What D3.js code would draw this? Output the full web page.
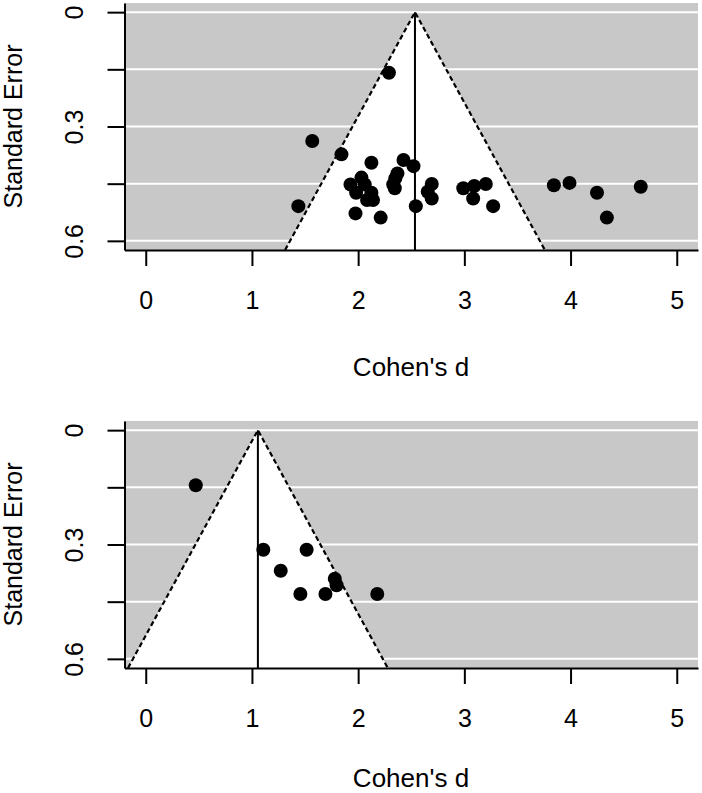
<!DOCTYPE html>
<html>
<head>
<meta charset="utf-8">
<script src="https://cdn.jsdelivr.net/npm/d3@7"></script>
<style>
  body { margin: 0; background: #fff; }
  svg { display: block; font-family: "Liberation Sans", Arial, Helvetica, sans-serif; }
</style>
</head>
<body>
<svg></svg>
<script>
// values
let topD = [1.568, 1.843, 2.125, 2.427, 2.521, 2.37, 2.35, 2.33, 2.345, 2.031,
  1.928, 2.062, 1.981, 2.125, 2.084, 2.14, 1.975, 2.212, 2.543, 2.693,
  2.655, 2.693, 2.99, 3.093, 3.202, 3.083, 3.271, 1.437, 2.29, 3.843,
  3.99, 4.249, 4.661, 4.342];
let topSE = [0.338, 0.373, 0.395, 0.388, 0.404, 0.423, 0.436, 0.452, 0.462, 0.434,
  0.452, 0.452, 0.474, 0.474, 0.493, 0.493, 0.528, 0.539, 0.509, 0.451,
  0.471, 0.489, 0.462, 0.456, 0.451, 0.489, 0.509, 0.509, 0.159, 0.454,
  0.448, 0.474, 0.458, 0.539];
let topMean = 2.535;

let bottomD = [0.471, 1.107, 1.515, 1.271, 1.78, 1.797, 1.456, 1.692, 2.18];
let bottomSE = [0.1445, 0.3136, 0.3136, 0.3687, 0.39, 0.407, 0.43, 0.43, 0.43];
let bottomMean = 1.056;

let xTicks = [0, 1, 2, 3, 4, 5];
let yTicks = [0, 0.15, 0.3, 0.45, 0.6];
let yTickLabels = ["0", "", "0.3", "", "0.6"];
let xTitle = "Cohen's d";
let yTitle = "Standard Error";

let width = 702;
let height = 793;
let left = 124.5;
let right = 698;
let panelHeight = 247;

let svg = d3.select("svg").attr("width", width).attr("height", height);

let drawPanel = (ds, ses, mean, top, titleGap, id) => {
  let xScale = d3.scaleLinear().domain([-0.2, 5.2]).range([left, right]);
  let yScale = d3.scaleLinear().domain([-0.024, 0.624]).range([top, top + panelHeight]);
  let seMax = yScale.domain()[1];

  let g = svg.append("g").attr("id", id);

  g.append("clipPath")
    .attr("id", id + "-clip")
    .append("rect")
    .attr("x", left)
    .attr("y", top)
    .attr("width", right - left)
    .attr("height", panelHeight);

  let plot = g.append("g").attr("clip-path", "url(#" + id + "-clip)");

  plot.append("rect")
    .attr("x", left)
    .attr("y", top)
    .attr("width", right - left)
    .attr("height", panelHeight)
    .attr("fill", "#c8c8c8");

  plot.selectAll("line.grid")
    .data(yTicks)
    .enter()
    .append("line")
    .attr("class", "grid")
    .attr("x1", left)
    .attr("x2", right)
    .attr("y1", (v) => yScale(v))
    .attr("y2", (v) => yScale(v))
    .attr("stroke", "#fff")
    .attr("stroke-width", 2);

  let funnel = [
    [mean - 1.96 * seMax, seMax],
    [mean, 0],
    [mean + 1.96 * seMax, seMax],
  ];
  let line = d3.line().x((p) => xScale(p[0])).y((p) => yScale(p[1]));

  plot.append("path")
    .attr("d", line(funnel) + "Z")
    .attr("fill", "#fff");

  plot.append("path")
    .attr("d", line(funnel))
    .attr("fill", "none")
    .attr("stroke", "#000")
    .attr("stroke-width", 2.2)
    .attr("stroke-dasharray", "5,3");

  plot.append("line")
    .attr("x1", xScale(mean))
    .attr("x2", xScale(mean))
    .attr("y1", yScale(0))
    .attr("y2", yScale(seMax))
    .attr("stroke", "#000")
    .attr("stroke-width", 2);

  plot.selectAll("circle")
    .data(ds)
    .enter()
    .append("circle")
    .attr("cx", (d) => xScale(d))
    .attr("cy", (d, i) => yScale(ses[i]))
    .attr("r", 7)
    .attr("fill", "#000");

  let xAxis = d3.axisBottom(xScale).tickValues(xTicks).tickSize(16).tickSizeOuter(0)
    .tickFormat(d3.format("d"));
  let yAxis = d3.axisLeft(yScale).tickValues(yTicks).tickSize(17).tickSizeOuter(0)
    .tickFormat((v, i) => yTickLabels[i]);

  let gx = g.append("g")
    .attr("transform", "translate(0, " + (top + panelHeight) + ")")
    .call(xAxis);
  gx.selectAll("text")
    .attr("y", 59)
    .attr("dy", null)
    .style("font-size", "25px")
    .attr("fill", "#000");

  let gy = g.append("g")
    .attr("transform", "translate(" + left + ", 0)")
    .call(yAxis);
  gy.selectAll("text")
    .attr("x", 0)
    .attr("y", -42)
    .attr("dy", null)
    .attr("transform", "rotate(-90)")
    .attr("text-anchor", "middle")
    .style("font-size", "25px")
    .attr("fill", "#000");

  g.selectAll(".domain, .tick line")
    .attr("stroke", "#000")
    .attr("stroke-width", 2);
  g.selectAll(".tick line").attr("stroke-linecap", "butt");

  g.append("text")
    .attr("x", 411)
    .attr("y", top + panelHeight + titleGap)
    .attr("text-anchor", "middle")
    .style("font-size", "26px")
    .text(xTitle);

  g.append("text")
    .attr("transform", "translate(22, " + (top + panelHeight / 2) + ") rotate(-90)")
    .attr("text-anchor", "middle")
    .style("font-size", "25px")
    .text(yTitle);
};

drawPanel(topD, topSE, topMean, 3, 126, "top");
drawPanel(bottomD, bottomSE, bottomMean, 421, 119, "bottom");
</script>
</body>
</html>
